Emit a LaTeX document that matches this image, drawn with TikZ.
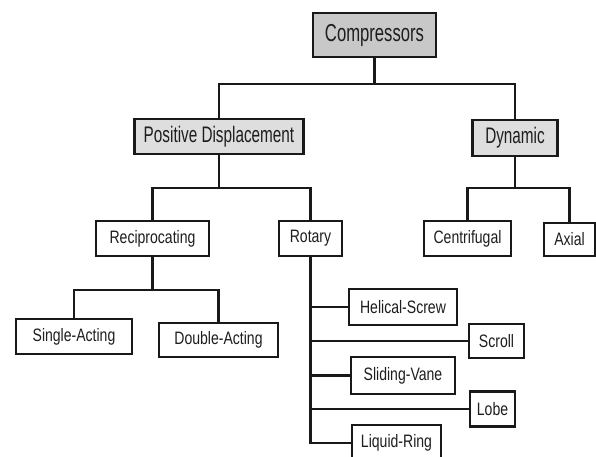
\documentclass[tikz,border=0pt]{standalone}
\usepackage{fontspec}
\usepackage{tikz}
\usepackage{color}
\newfontfamily\bigfont[FakeStretch=0.68]{Liberation Sans}
\newfontfamily\smallfont[FakeStretch=0.78]{Liberation Sans}
\definecolor{boxline}{RGB}{25,25,25}
\definecolor{txtgray}{RGB}{30,30,30}
\definecolor{topfill}{RGB}{200,200,200}
\definecolor{midfill}{RGB}{222,222,222}
\begin{document}
\begin{tikzpicture}[%
      x=1pt, y=-1pt,
      box/.style={draw=boxline, line width=2.3pt, fill=white, text=txtgray,
        inner sep=0pt, font=\smallfont\fontsize{18}{20}\selectfont},
      topbox/.style={box, fill=topfill, line width=2.6pt,
        font=\bigfont\fontsize{24.5}{26}\selectfont},
      midbox/.style={box, fill=midfill,
        font=\bigfont\fontsize{22.5}{24}\selectfont},
      link/.style={draw=boxline, line width=2.3pt},
      ]
      \useasboundingbox [fill=white] (0,0) rectangle (596,457);

      % top levels
      \node [topbox, minimum width=123pt, minimum height=44pt] (comp) at (374.5,35) {Compressors};
      \node [midbox, minimum width=169pt, minimum height=35pt] (pd) at (219,136.5) {Positive Displacement};
      \node [midbox, minimum width=85pt, minimum height=36pt] (dyn) at (515,138) {Dynamic};

      % second level
      \node [box, minimum width=113pt, minimum height=35pt] (recip) at (152.5,238.5) {Reciprocating};
      \node [box, minimum width=63pt, minimum height=35pt] (rot) at (310.5,238.5) {Rotary};
      \node [box, minimum width=87pt, minimum height=35pt] (cent) at (467.5,238.5) {Centrifugal};
      \node [box, minimum width=51pt, minimum height=33pt] (axial) at (569.5,239.5) {Axial};

      % reciprocating types
      \node [box, minimum width=116pt, minimum height=35pt] (single) at (74,336.5) {Single-Acting};
      \node [box, minimum width=119pt, minimum height=34pt] (double) at (218.5,340) {Double-Acting};

      % rotary types
      \node [box, minimum width=108pt, minimum height=36pt] (helix) at (403,307) {Helical-Screw};
      \node [box, minimum width=55pt, minimum height=34pt] (scroll) at (496.5,341) {Scroll};
      \node [box, minimum width=104pt, minimum height=37pt] (vane) at (403,375.5) {Sliding-Vane};
      \node [box, minimum width=45pt, minimum height=35pt] (lobe) at (492.5,409) {Lobe};
      \node [box, minimum width=89pt, minimum height=36pt] (ring) at (396.5,443) {Liquid-Ring};

      % connectors
      \coordinate (bus1) at (374.5,84);
      \coordinate (bus2) at (219,188);
      \coordinate (bus3) at (515,188);
      \coordinate (bus4) at (152.5,290);
      \draw [link] (comp.south) -- (bus1);
      \draw [link] (bus1) -| (pd.north);
      \draw [link] (bus1) -| (dyn.north);
      \draw [link] (pd.south) -- (bus2);
      \draw [link] (bus2) -| (recip.north);
      \draw [link] (bus2) -| (rot.north);
      \draw [link] (dyn.south) -- (bus3);
      \draw [link] (bus3) -| (cent.north);
      \draw [link] (bus3) -| (axial.north);
      \draw [link] (recip.south) -- (bus4);
      \draw [link] (bus4) -| (single.north);
      \draw [link] (bus4) -| (double.north);
      \draw [link] (rot.south) |- (ring.west);
      \draw [link] (rot.south |- helix.west) -- (helix.west);
      \draw [link] (rot.south |- scroll.west) -- (scroll.west);
      \draw [link] (rot.south |- vane.west) -- (vane.west);
      \draw [link] (rot.south |- lobe.west) -- (lobe.west);
      \end{tikzpicture}
\end{document}
